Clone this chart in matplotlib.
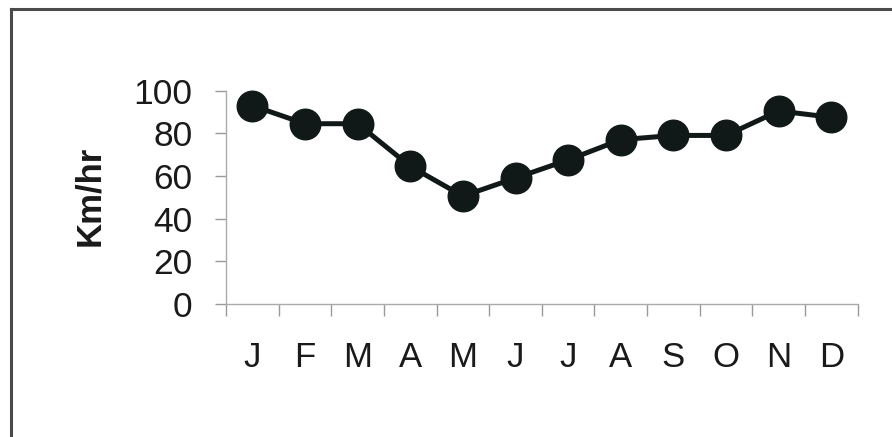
import matplotlib
matplotlib.use("Agg")
import matplotlib.pyplot as plt
from matplotlib.lines import Line2D

months = ['J', 'F', 'M', 'A', 'M', 'J', 'J', 'A', 'S', 'O', 'N', 'D']
speed = [93, 84.5, 84.5, 64.5, 50.5, 59, 67.5, 77, 79, 79, 90.5, 87.5]
yticks = [0, 20, 40, 60, 80, 100]

plt.rcParams['font.family'] = ['Liberation Sans', 'DejaVu Sans']

fig = plt.figure(figsize=(8.92, 4.37), dpi=100)
ax = fig.add_axes([226 / 892, 133.3 / 437, 631.7 / 892, 213 / 437])

x = list(range(len(months)))
ax.plot(x, speed, color='#111818', linewidth=3.6, marker='o', markersize=22,
        markerfacecolor='#111818', markeredgecolor='#111818', zorder=3, clip_on=False)

ax.set_xlim(-0.5, len(months) - 0.5)
ax.set_ylim(0, 100)
ax.set_xticks(x)
ax.set_xticklabels(months)
ax.set_xticks([i - 0.5 for i in range(len(months) + 1)], minor=True)
ax.set_yticks(yticks)

ax.tick_params(axis='x', which='major', length=0, pad=27, labelsize=25, labelcolor='#1a1a1a')
ax.tick_params(axis='x', which='minor', length=8.5, width=1, color='#999999', direction='out')
ax.tick_params(axis='y', length=8, width=1, color='#999999', pad=16, labelsize=25.5,
               labelcolor='#1a1a1a')

for s in ['top', 'right']:
    ax.spines[s].set_visible(False)
for s in ['left', 'bottom']:
    ax.spines[s].set_color('#aaaaaa')
    ax.spines[s].set_linewidth(1)

fig.text(90 / 892, 1 - 195.5 / 437, 'Km/hr', rotation=90, ha='center', va='center',
         fontsize=25, fontweight='bold', color='#1a1a1a')

# frame lines of the original picture (only top and left are visible)
fig.add_artist(Line2D([10.5 / 892, 1], [1 - 8.5 / 437, 1 - 8.5 / 437],
                      transform=fig.transFigure, color='#4a4a4a', linewidth=2.2))
fig.add_artist(Line2D([10.5 / 892, 10.5 / 892], [0, 1 - 8.5 / 437],
                      transform=fig.transFigure, color='#4a4a4a', linewidth=2.2))

fig.savefig('out.png', dpi=100)
